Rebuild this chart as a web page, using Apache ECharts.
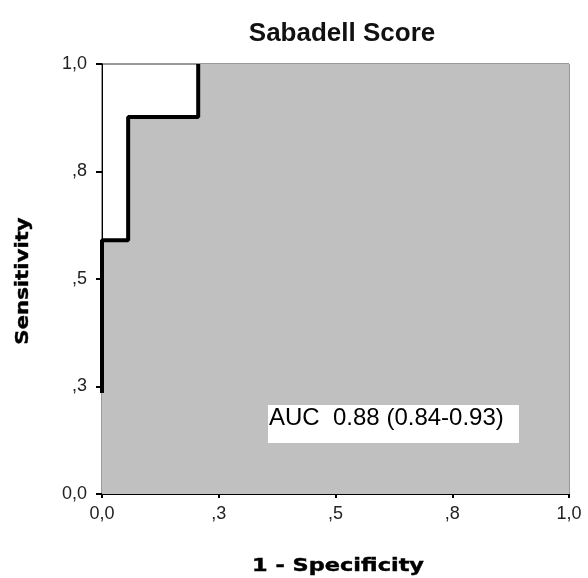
<!DOCTYPE html>
<html>
<head>
<meta charset="utf-8">
<script src="https://cdn.jsdelivr.net/npm/echarts@6/dist/echarts.min.js"></script>
<style>
html,body{margin:0;padding:0;background:#fff;}
#roc{width:588px;height:578px;}
</style>
</head>
<body>
<div id="roc"></div>
<script>
// ROC points (1 - specificity, sensitivity)
var fpr = [0, 0, 0.056, 0.056, 0.206, 0.206, 1];
var tpr = [0.235, 0.59, 0.59, 0.877, 0.877, 1, 1];
var tickVals = [0, 0.25, 0.5, 0.75, 1];
var tickLabels = ['0,0', ',3', ',5', ',8', '1,0'];
var aucText = 'AUC  0.88 (0.84-0.93)';
var xName = '1 - Specificity';
var yName = 'Sensitivity';

var pts = [];
for (var i = 0; i < fpr.length; i++) pts.push([fpr[i], tpr[i]]);
// the visible thick line stops where it meets the top border
var linePts = pts.slice(0, pts.length - 1);

function tickLabel(v) {
    for (var i = 0; i < tickVals.length; i++) {
        if (Math.abs(tickVals[i] - v) < 1e-6) return tickLabels[i];
    }
    return '';
}

var FONT = 'Arial, "Liberation Sans", sans-serif';
var NAMEFONT = 'bold 17px "DejaVu Sans", sans-serif';
var chart = echarts.init(document.getElementById('roc'));
var lblStyle = {color: '#222', fontFamily: FONT, fontSize: 18};
var option = {
    animation: false,
    backgroundColor: '#fff',
    title: {
        text: 'Sabadell Score',
        left: 337, top: 16, textAlign: 'center',
        textStyle: {color: '#111', fontFamily: FONT, fontSize: 26, fontWeight: 'bold'}
    },
    grid: {
        left: 102, right: 19, top: 64, bottom: 84,
        show: true, borderColor: '#333', borderWidth: 1, backgroundColor: '#fff'
    },
    xAxis: {
        type: 'value', min: 0, max: 1, interval: 0.25,
        axisLine: {lineStyle: {color: '#000', width: 1}},
        axisTick: {length: 4, lineStyle: {color: '#000', width: 2}},
        axisLabel: Object.assign({formatter: tickLabel, margin: 11}, lblStyle),
        splitLine: {show: false}
    },
    yAxis: {
        type: 'value', min: 0, max: 1, interval: 0.25,
        axisLine: {lineStyle: {color: '#000', width: 1}},
        axisTick: {length: 6, lineStyle: {color: '#000', width: 2}},
        axisLabel: Object.assign({formatter: tickLabel, margin: 15}, lblStyle),
        splitLine: {show: false}
    },
    series: [{
        type: 'line',
        data: pts,
        showSymbol: false,
        lineStyle: {width: 0},
        areaStyle: {color: '#c0c0c0', opacity: 1},
        z: 1
    }, {
        type: 'line',
        data: linePts,
        showSymbol: false,
        clip: false,
        lineStyle: {color: '#000', width: 4},
        z: 3
    }],
    graphic: [{
        type: 'rect',
        left: 268, top: 405,
        shape: {width: 251, height: 38},
        style: {fill: '#fff'},
        z: 10
    }, {
        type: 'text',
        left: 269, top: 406,
        style: {text: aucText, fill: '#000', font: '24px ' + FONT},
        z: 11
    }, {
        // wide, spaced-out axis titles
        type: 'text',
        x: 338, y: 567, scaleX: 1.32,
        style: {text: xName, x: 0, y: 0, align: 'center', verticalAlign: 'middle', fill: '#000', font: NAMEFONT,
                stroke: '#000', lineWidth: 0.4}
    }, {
        type: 'text',
        x: 24, y: 281, rotation: Math.PI / 2, scaleX: 1.25,
        style: {text: yName, x: 0, y: 0, align: 'center', verticalAlign: 'middle', fill: '#000', font: NAMEFONT,
                stroke: '#000', lineWidth: 0.4}
    }]
};
chart.setOption(option);
window.onresize = chart.resize;
</script>
</body>
</html>
